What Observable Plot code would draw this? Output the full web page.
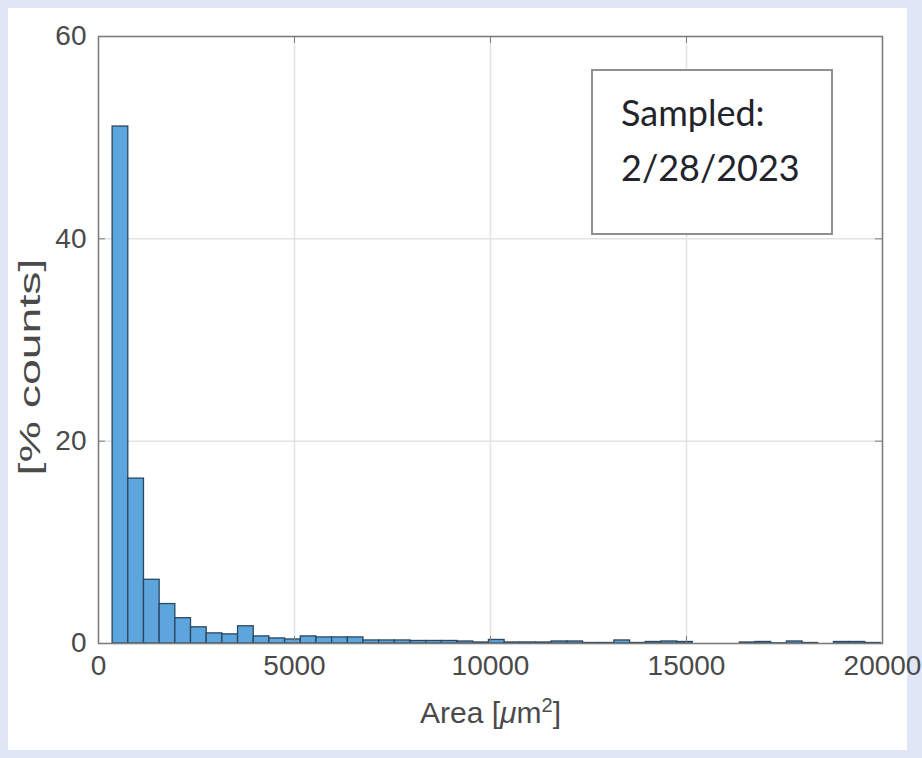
<!DOCTYPE html>
<html><head><meta charset="utf-8">
<script src="https://cdn.jsdelivr.net/npm/d3@7"></script>
<script src="https://cdn.jsdelivr.net/npm/@observablehq/plot@0.6"></script>
<style>
html,body{margin:0;padding:0;background:#dfe7f6;}
#wrap{position:relative;width:922px;height:758px;overflow:hidden;}
#panel{position:absolute;left:8px;top:8px;width:899px;height:742px;background:#fff;}
#chart{position:absolute;left:0;top:0;}
#note{position:absolute;left:591px;top:69px;width:242px;height:166px;box-sizing:border-box;border:2px solid #8f8f8f;background:#fff;
  font-family:Lato,"Open Sans",sans-serif;font-size:36px;color:#23232b;padding:14px 0 0 28px;line-height:55px;}
</style></head>
<body><div id="wrap"><div id="panel"></div><div id="chart"></div><div id="note"></div></div>
<script>
// Histogram bin edges (µm²) and bar heights (% counts)
const binEdges = [360,760,1160,1560,1960,2360,2760,3160,3560,3960,4360,4760,5160,5560,5960,6360,6760,7160,7560,7960,8360,8760,9160,9560,9960,10360,10760,11160,11560,11960,12360,12760,13160,13560,13960,14360,14760,15160,15560,15960,16360,16760,17160,17560,17960,18360,18760,19160,19560,19960];
const percentCounts = [51.1,16.3,6.3,3.9,2.5,1.6,1.0,0.9,1.7,0.7,0.5,0.4,0.7,0.6,0.6,0.6,0.3,0.3,0.3,0.25,0.25,0.25,0.2,0.1,0.35,0.1,0.1,0.1,0.2,0.2,0.05,0.05,0.3,0.05,0.15,0.2,0.15,0,0,0,0.1,0.15,0.02,0.2,0.05,0,0.15,0.15,0.05];
const xTicks = [0,5000,10000,15000,20000];
const yTicks = [0,20,40,60];
const xLabel = "Area [μm²]";
const yLabel = "[% counts]";
const noteLines = ["Sampled:", "2/28/2023"];

const bins = percentCounts.map((p, i) => ({x1: binEdges[i], x2: binEdges[i + 1], pct: p}));

const axisColor = "#7d7d7d";
const chart = Plot.plot({
  width: 922, height: 758,
  marginLeft: 98, marginRight: 40, marginTop: 36, marginBottom: 115,
  style: {background: "transparent", fontFamily: "'Liberation Sans', Arial, sans-serif", fontSize: "28px", color: "#4a4a4a", overflow: "visible"},
  x: {domain: [0, 20000]},
  y: {domain: [0, 60]},
  marks: [
    Plot.gridX(xTicks.slice(1, -1), {stroke: "#e3e3e3", strokeOpacity: 1, strokeWidth: 1.5}),
    Plot.gridY(yTicks.slice(1, -1), {stroke: "#e3e3e3", strokeOpacity: 1, strokeWidth: 1.5}),
    Plot.rectY(bins, {x1: "x1", x2: "x2", y: "pct", fill: "#5ca6dd", stroke: "#2b465e", strokeWidth: 1.3}),
    Plot.ruleX(xTicks, {y1: 0, y2: 0.7, stroke: axisColor}),
    Plot.ruleX(xTicks, {y1: 60, y2: 59.3, stroke: axisColor}),
    Plot.ruleY(yTicks, {x1: 0, x2: 180, stroke: axisColor}),
    Plot.ruleY(yTicks, {x1: 20000, x2: 19820, stroke: axisColor}),
    Plot.frame({stroke: axisColor, strokeWidth: 1.6}),
    Plot.axisX(xTicks, {tickSize: 0, tickPadding: 12, tickFormat: d3.format("d"), label: null, fill: "#4a4a4a"}),
    Plot.axisY(yTicks, {tickSize: 0, tickPadding: 12, label: null, fill: "#4a4a4a"}),
    Plot.text([xLabel], {frameAnchor: "bottom", dy: 70, lineAnchor: "middle", fontSize: 30, fill: "#4a4a4a"}),
    Plot.text([yLabel], {frameAnchor: "left", dx: -68, dy: 27, rotate: -90, textAnchor: "middle", lineAnchor: "middle", fontSize: 30, fill: "#4a4a4a"})
  ]
});
document.getElementById("chart").appendChild(chart);

const ns = "http://www.w3.org/2000/svg";
chart.querySelectorAll("text").forEach(t => {
  if (t.textContent === xLabel) {
    // italic mu and raised 2, as in the original TeX label
    t.textContent = "";
    const parts = [["Area [", {}], ["μ", {"font-style": "italic"}], ["m", {}], ["2", {"baseline-shift": "super", "font-size": "20"}], ["]", {}]];
    parts.forEach(([s, attrs]) => {
      const ts = document.createElementNS(ns, "tspan");
      ts.textContent = s;
      for (const k in attrs) ts.setAttribute(k, attrs[k]);
      t.appendChild(ts);
    });
  } else if (t.textContent === yLabel) {
    // the original picture is stretched along the y direction
    const tr = t.getAttribute("transform") || "";
    t.setAttribute("transform", tr + " scale(1.55,1)");
  }
});

const note = document.getElementById("note");
noteLines.forEach(l => { const d = document.createElement("div"); d.textContent = l; note.appendChild(d); });
</script>
</body></html>
